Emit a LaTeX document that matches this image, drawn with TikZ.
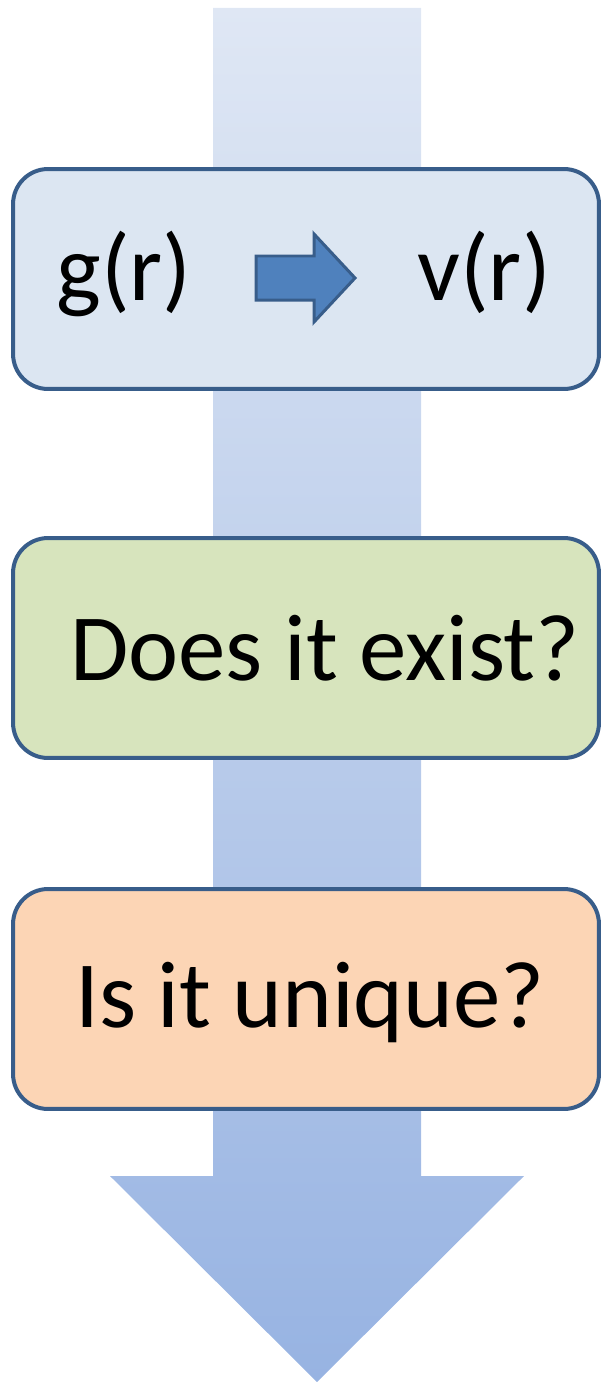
\documentclass[tikz,border=0pt]{standalone}
\usepackage{fontspec}
\setmainfont{Carlito}
\usepackage{xcolor}
\usetikzlibrary{arrows.meta,positioning}

\definecolor{flowtop}{HTML}{DFE7F4}
\definecolor{flowbot}{HTML}{97B3E2}
\definecolor{boxline}{HTML}{385D8A}
\definecolor{blueq}{HTML}{DCE6F2}
\definecolor{greenq}{HTML}{D7E4BD}
\definecolor{orangeq}{HTML}{FCD5B5}
\definecolor{convfill}{HTML}{4F81BD}

\begin{document}
\begin{tikzpicture}[
    x=0.02cm, y=-0.02cm,
    box/.style={draw=boxline, line width=0.08cm, rounded corners=0.7cm, minimum width=11.72cm, minimum height=4.4cm},
    txt/.style={anchor=base, inner sep=0pt, font=\fontsize{54}{60}\selectfont},
    conv/.style={draw=boxline, fill=convfill, line width=0.06cm, line join=miter}
]
\useasboundingbox (0,0) rectangle (601,1382);
% big downward arrow behind the boxes
\shade[top color=flowtop, bottom color=flowbot]
    (213,8) -- (421,8) -- (421,1176) -- (524,1176) -- (317,1382)
    -- (110,1176) -- (213,1176) -- cycle;
\node[box, fill=blueq] (b1) at (306,279) {};
\node[box, fill=greenq] (b2) at (306,648) {};
\node[box, fill=orangeq] (b3) at (306,999) {};
\node[txt] (g) at (124,300) {g(r)};
\node[txt] (v) at (484,300) {v(r)};
\draw[conv] (256,256) -- (314,256) -- (314,234) -- (355,278) -- (314,322)
    -- (314,300) -- (256,300) -- cycle;
\node[txt] (q1) at (325,680) {Does it exist?};
\node[txt] (q2) at (310,1027) {Is it unique?};
\end{tikzpicture}
\end{document}
